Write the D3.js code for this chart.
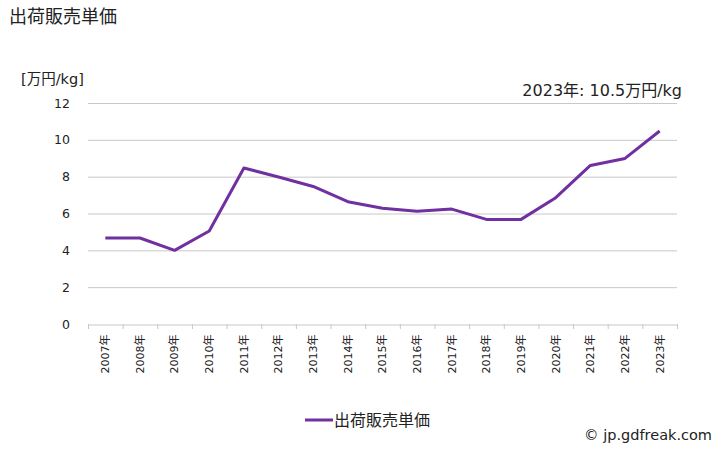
<!DOCTYPE html>
<html>
<head>
<meta charset="utf-8">
<script src="https://cdn.jsdelivr.net/npm/d3@7"></script>
<style>
  body { margin: 0; background: #fff; }
  text { font-family: "DejaVu Sans", "Noto Sans CJK JP", sans-serif; fill: #222; }
</style>
</head>
<body>
<div id="chart"></div>
<script>
//Chart data
var years = ["2007年","2008年","2009年","2010年","2011年","2012年","2013年","2014年","2015年",
	"2016年","2017年","2018年","2019年","2020年","2021年","2022年","2023年"];
var prices = [4.67, 4.67, 4.0, 5.05, 8.47, 7.98, 7.47, 6.64, 6.28, 6.12, 6.24, 5.68, 5.68, 6.86, 8.61, 8.99, 10.48];
var yTicks = [0, 2, 4, 6, 8, 10, 12];
var seriesName = "出荷販売単価";

var width = 728;
var height = 450;
var plotLeft = 88, plotRight = 677, plotTop = 103, plotBottom = 324;
var color = "#7030a0";

var svg = d3.select("#chart").append("svg")
	.attr("width", width)
	.attr("height", height);

var x = d3.scaleBand().domain(years).range([plotLeft, plotRight]);
var y = d3.scaleLinear().domain([0, 12]).range([plotBottom, plotTop]);

//Title and unit
svg.append("text").attr("x", 9).attr("y", 23).style("font-size", "18px").text(seriesName);
svg.append("text").attr("x", 21).attr("y", 84).style("font-size", "14.5px").text("[万円/kg]");
svg.append("text").attr("x", 682).attr("y", 96).attr("text-anchor", "end")
	.style("font-size", "16px").text("2023年: 10.5万円/kg");

//Grid lines
svg.append("g").selectAll("line")
	.data(yTicks.filter(function(d) { return d > 0; }))
	.enter().append("line")
	.attr("x1", plotLeft).attr("x2", plotRight)
	.attr("y1", function(d) { return y(d) + 0.5; })
	.attr("y2", function(d) { return y(d) + 0.5; })
	.attr("stroke", "#c8c8c8").attr("stroke-width", 1);

//Y axis labels
var yAxis = svg.append("g")
	.attr("transform", "translate(" + plotLeft + ",0)")
	.call(d3.axisLeft(y).tickValues(yTicks).tickSize(0).tickPadding(18));
yAxis.select(".domain").remove();
yAxis.selectAll("text").style("font-size", "12.5px").style("fill", "#222");

//X axis
var xAxis = svg.append("g")
	.attr("transform", "translate(0," + (plotBottom + 0.5) + ")")
	.call(d3.axisBottom(x).tickSize(0));
xAxis.select(".domain").attr("stroke", "#c8c8c8");
xAxis.selectAll("text")
	.style("font-size", "11px").style("fill", "#222")
	.attr("text-anchor", "end")
	.attr("transform", "rotate(-90)")
	.attr("x", -10).attr("y", 0).attr("dy", "0.35em");

//Tick marks at band edges
svg.append("g").selectAll("line")
	.data(years.concat(["end"]))
	.enter().append("line")
	.attr("x1", function(d, i) { return plotLeft + i * x.bandwidth() + 0.5; })
	.attr("x2", function(d, i) { return plotLeft + i * x.bandwidth() + 0.5; })
	.attr("y1", plotBottom).attr("y2", plotBottom + 5)
	.attr("stroke", "#c8c8c8");

//Line
var line = d3.line()
	.x(function(d, i) { return x(years[i]) + x.bandwidth() / 2; })
	.y(function(d) { return y(d); });

svg.append("path")
	.datum(prices)
	.attr("d", line)
	.attr("fill", "none")
	.attr("stroke", color)
	.attr("stroke-width", 3)
	.attr("stroke-linejoin", "round");

//Legend
svg.append("line").attr("x1", 305).attr("x2", 333).attr("y1", 420).attr("y2", 420)
	.attr("stroke", color).attr("stroke-width", 3);
svg.append("text").attr("x", 334).attr("y", 426).style("font-size", "16px").text(seriesName);

//Credit
svg.append("text").attr("x", 712).attr("y", 440).attr("text-anchor", "end")
	.style("font-size", "14.5px").text("© jp.gdfreak.com");
</script>
</body>
</html>
